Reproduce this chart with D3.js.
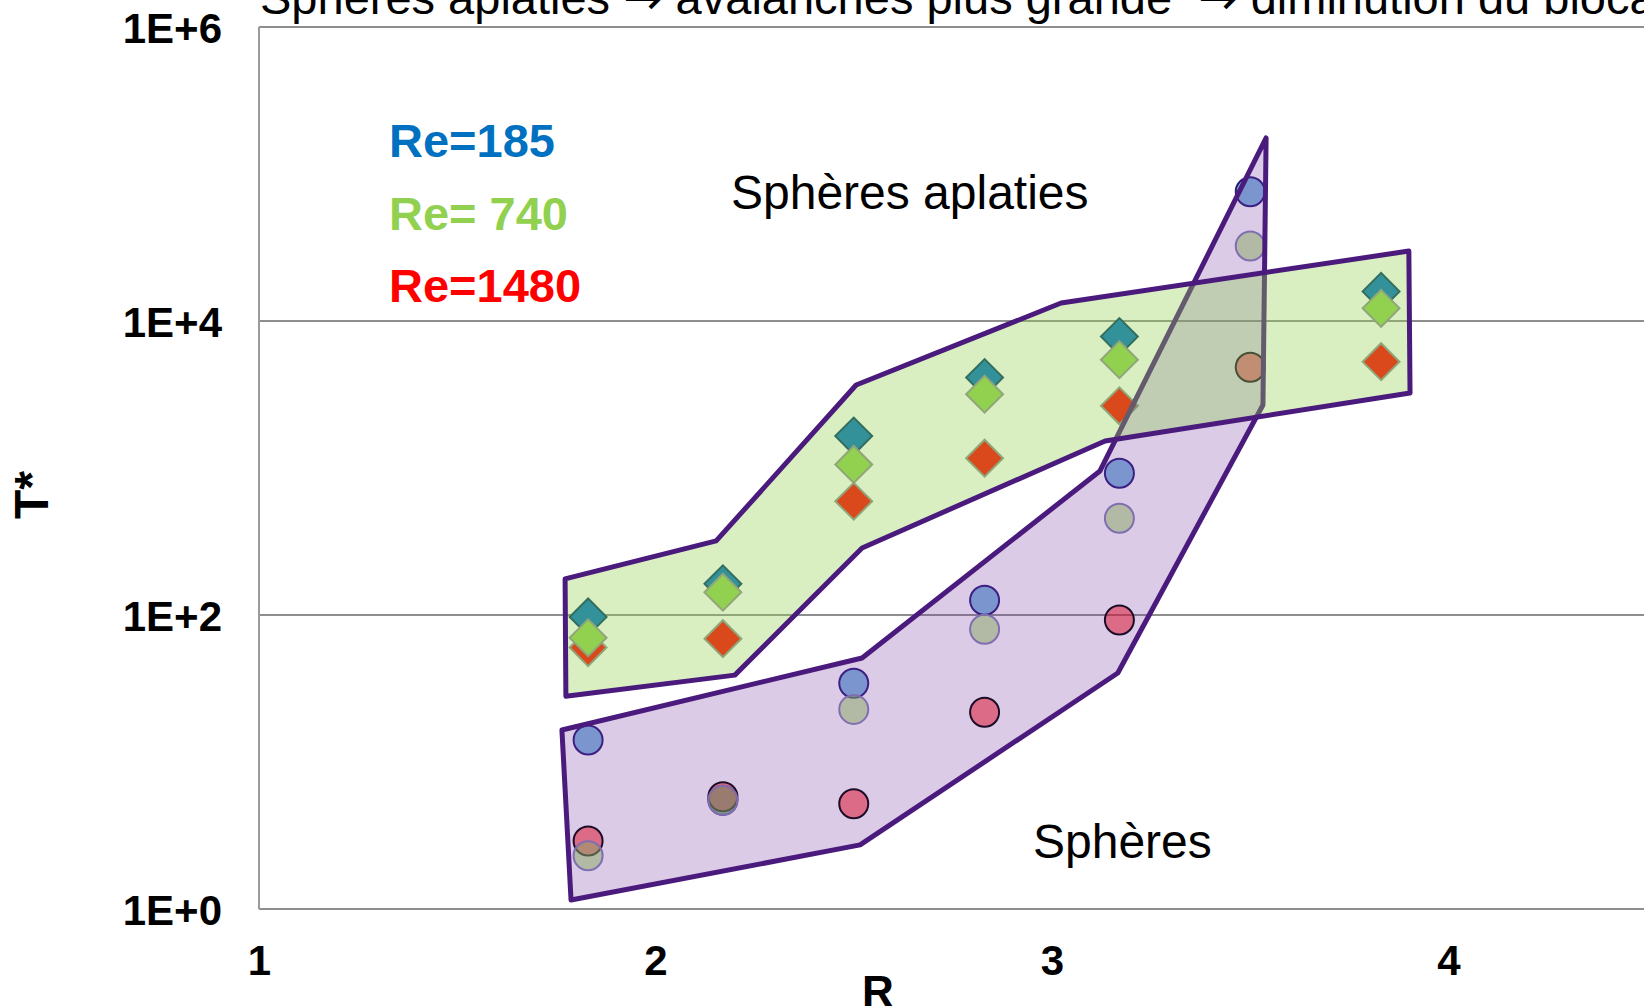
<!DOCTYPE html>
<html>
<head>
<meta charset="utf-8">
<script src="https://cdn.jsdelivr.net/npm/d3@7"></script>
<style>
  body { margin: 0; background: #fff; }
  svg text { font-family: "Liberation Sans", Arial, sans-serif; }
</style>
</head>
<body>
<div id="chart"></div>
<script>
// data
const rValues = [1.83, 2.17, 2.5, 2.83, 3.17, 3.5, 3.83];

// flattened spheres (diamonds), null = no point
const flat185  = [97, 163, 1650, 4120, 7830, null, 15900];
const flat740  = [70, 143, 1057, 3180, 5460, null, 12200];
const flat1480 = [60, 69, 594, 1166, 2650, null, 5290];

// spheres (circles)
const sph185  = [14.1, 5.5, 34.3, 126, 920, 75800, null];
const sph740  = [2.3, 5.5, 22.8, 80, 455, 32400, null];
const sph1480 = [2.9, 5.8, 5.2, 21.8, 92.5, 4840, null];

// hand-drawn zones [R, T*]
const zoneFlat = [[1.772, 176], [2.153, 319], [2.506, 3670], [3.023, 13250], [3.900, 29900],
                  [3.903, 3240], [3.134, 1527], [2.521, 286], [2.200, 39], [1.774, 28]];
const zoneSph  = [[1.764, 16.5], [2.521, 51], [3.121, 955], [3.540, 175800],
                  [3.532, 2685], [3.166, 40.3], [2.516, 2.73], [1.787, 1.15]];

const xTicks = [1, 2, 3, 4];
const yTicks = [1, 1e2, 1e4, 1e6];
const reLabels = ["Re=185", "Re= 740", "Re=1480"];
const reColors = ["#0070C0", "#92D050", "#FF0000"];
const titleParts = ["Sphères aplaties ", "→", " avalanches plus grande  ", "→", " diminution du blocage"];

const W = 1644, H = 1006;
const svg = d3.select("#chart").append("svg")
  .attr("width", W).attr("height", H);

const x = d3.scaleLinear().domain([1, 5]).range([259, 1845]);
const y = d3.scaleLog().domain([1, 1e6]).range([909, 27]);

// title (cut at top like the original)
svg.append("text")
  .attr("x", 260).attr("y", 14)
  .style("font-size", "47px")
  .style("white-space", "pre")
  .selectAll("tspan")
  .data(titleParts)
  .enter().append("tspan")
    .style("font-family", d => d === "→" ? "'DejaVu Sans', sans-serif" : null)
    .text(d => d);

// grid + frame
svg.append("g").selectAll("line")
  .data(yTicks)
  .enter().append("line")
    .attr("x1", x(1)).attr("x2", W)
    .attr("y1", d => y(d)).attr("y2", d => y(d))
    .style("stroke", "#8f8f8f")
    .style("stroke-width", 2);
svg.append("line")
  .attr("x1", x(1)).attr("x2", x(1))
  .attr("y1", y(1e6)).attr("y2", y(1))
  .style("stroke", "#9a9a9a")
  .style("stroke-width", 2);

// axes
const xAxis = svg.append("g")
  .attr("transform", `translate(0,${y(1)})`)
  .call(d3.axisBottom(x).tickValues(xTicks).tickSize(0).tickPadding(36).tickFormat(d3.format("d")));
const yAxis = svg.append("g")
  .attr("transform", `translate(${x(1)},0)`)
  .call(d3.axisLeft(y).tickValues(yTicks).tickSize(0).tickPadding(37)
    .tickFormat(d => "1E+" + Math.round(Math.log10(d))));
[xAxis, yAxis].forEach(a => {
  a.select(".domain").remove();
  a.selectAll("text")
    .style("font-family", "'Liberation Sans', Arial, sans-serif")
    .style("font-size", "42px")
    .style("font-weight", "bold")
    .style("fill", "#000");
});
yAxis.selectAll("text").attr("dy", "0.36em");

// axis titles
svg.append("text")
  .attr("x", 878).attr("y", 1007)
  .attr("text-anchor", "middle")
  .style("font-size", "44px").style("font-weight", "bold")
  .text("R");
svg.append("text")
  .attr("transform", "translate(48,495) rotate(-90)")
  .attr("text-anchor", "middle")
  .style("font-size", "48px").style("font-weight", "bold")
  .text("T*");

// markers: drawn first, the zones sit on top of them
const diamond = d3.symbol().type(d3.symbolSquare).size(680);
const flatSeries = [
  {vals: flat185,  fill: "#0070C0", stroke: "#003A66"},
  {vals: flat1480, fill: "#FF0000", stroke: "#909090"},
  {vals: flat740,  fill: "#92D050", stroke: "#909090"}
];
const sphSeries = [
  {vals: sph185,  fill: "#0070C0", stroke: "#2A1A78"},
  {vals: sph1480, fill: "#FF0000", stroke: "#000000"},
  {vals: sph740,  fill: "#92D050", stroke: "#8585B5"}
];
const pts = vals => vals.map((v, i) => ({r: rValues[i], t: v})).filter(d => d.t != null);

[0, 1, 2].forEach(k => {
  const s = sphSeries[k], f = flatSeries[k];
  svg.append("g").selectAll("circle")
    .data(pts(s.vals))
    .enter().append("circle")
      .attr("cx", d => x(d.r))
      .attr("cy", d => y(d.t))
      .attr("r", 14.5)
      .style("fill", s.fill)
      .style("fill-opacity", 0.5)
      .style("stroke", s.stroke)
      .style("stroke-width", 2);
  svg.append("g").selectAll("path")
    .data(pts(f.vals))
    .enter().append("path")
      .attr("d", diamond)
      .attr("transform", d => `translate(${x(d.r)},${y(d.t)}) rotate(45)`)
      .style("fill", f.fill)
      .style("stroke", f.stroke)
      .style("stroke-width", 2);
});

// zones
const line = d3.line().x(d => x(d[0])).y(d => y(d[1])).curve(d3.curveLinearClosed);
svg.append("path")
  .attr("d", line(zoneSph))
  .style("fill", "#7030A0").style("fill-opacity", 0.25)
  .style("stroke", "#4A1B7D").style("stroke-width", 5)
  .style("stroke-linejoin", "round");
svg.append("path")
  .attr("d", line(zoneFlat))
  .style("fill", "#92D050").style("fill-opacity", 0.35)
  .style("stroke", "#4A1B7D").style("stroke-width", 5)
  .style("stroke-linejoin", "round");

// zone labels
svg.append("text").attr("x", 731).attr("y", 209)
  .style("font-size", "48px").text("Sphères aplaties");
svg.append("text").attr("x", 1033).attr("y", 858)
  .style("font-size", "48px").text("Sphères");

// legend
svg.append("g").selectAll("text")
  .data(reLabels)
  .enter().append("text")
    .attr("x", 389)
    .attr("y", (d, i) => 157 + i * 72.5)
    .style("font-size", "47px").style("font-weight", "bold")
    .style("fill", (d, i) => reColors[i])
    .style("white-space", "pre")
    .text(d => d);
</script>
</body>
</html>
